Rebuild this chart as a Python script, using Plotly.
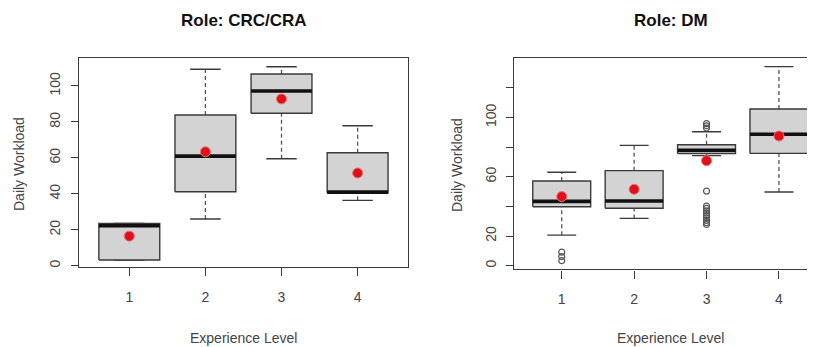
import plotly.graph_objects as go

# ---------------- data ----------------
levels = [1, 2, 3, 4]
level_labels = ["1", "2", "3", "4"]

# Role: CRC/CRA
crc_q1 = [3.2, 41.2, 84.8, 40.6]
crc_med = [22.3, 61.0, 97.2, 41.0]
crc_q3 = [23.6, 83.9, 106.7, 62.9]
crc_lo = [3.2, 26.0, 59.5, 36.4]
crc_hi = [23.6, 109.3, 110.7, 77.9]
crc_mean = [16.5, 63.4, 92.8, 51.6]
crc_out_level = []
crc_out_value = []

# Role: DM
dm_q1 = [39.8, 38.7, 75.6, 75.7]
dm_med = [43.4, 43.6, 77.8, 88.6]
dm_q3 = [57.1, 64.1, 81.5, 105.6]
dm_lo = [20.6, 31.9, 74.2, 49.7]
dm_hi = [63.0, 81.1, 90.3, 134.2]
dm_mean = [46.6, 51.5, 70.8, 87.4]
dm_out_level = [1, 1, 1, 3, 3, 3, 3, 3, 3, 3, 3, 3, 3, 3, 3, 3]
dm_out_value = [9.2, 6.2, 3.4, 95.8, 94.3, 92.8, 50.3, 40.2, 38.6,
                37.0, 35.4, 33.8, 32.2, 30.6, 29.0, 27.8]

left_yticks = [0, 20, 40, 60, 80, 100]
right_yticks = [0, 20, 40, 60, 80, 100, 120]
right_yticktext = ["0", "20", "", "60", "", "100", ""]

titles = ["Role: CRC/CRA", "Role: DM"]
x_title = "Experience Level"
y_title = "Daily Workload"

# ---------------- style ----------------
HALF = 0.4      # half box width (R boxwex 0.8)
CAP = 0.2       # half staple width
OFF = 8         # page body margin offset
W, H = 815 - OFF, 347 - OFF
BOX_FILL = "#d3d3d3"
EDGE = "#3a3a3a"
TXT = "#444444"
FONT = "Liberation Sans, Arial"


def px_x(p):
    return (p - OFF) / W


def px_y(p):
    return 1 - (p - OFF) / H


fig = go.Figure()


def add_panel(xa, ya, q1, med, q3, lo, hi, mean, out_x, out_y):
    # whiskers (dashed)
    wx, wy = [], []
    for x, a, b, c, d in zip(levels, lo, q1, q3, hi):
        wx += [x, x, None, x, x, None]
        wy += [a, b, None, c, d, None]
    fig.add_trace(go.Scatter(x=wx, y=wy, mode="lines", xaxis=xa, yaxis=ya,
                             line=dict(color="#555555", width=1.3, dash="4px,3px"),
                             hoverinfo="skip"))
    # staples
    sx, sy = [], []
    for x, a, d in zip(levels, lo, hi):
        sx += [x - CAP, x + CAP, None, x - CAP, x + CAP, None]
        sy += [a, a, None, d, d, None]
    fig.add_trace(go.Scatter(x=sx, y=sy, mode="lines", xaxis=xa, yaxis=ya,
                             line=dict(color=EDGE, width=1.4), hoverinfo="skip"))
    # boxes
    for x, b, c in zip(levels, q1, q3):
        fig.add_trace(go.Scatter(
            x=[x - HALF, x + HALF, x + HALF, x - HALF, x - HALF],
            y=[b, b, c, c, b], mode="lines", fill="toself",
            fillcolor=BOX_FILL, xaxis=xa, yaxis=ya,
            line=dict(color=EDGE, width=1.4), hoverinfo="skip"))
    # medians
    mx, my = [], []
    for x, m in zip(levels, med):
        mx += [x - HALF, x + HALF, None]
        my += [m, m, None]
    fig.add_trace(go.Scatter(x=mx, y=my, mode="lines", xaxis=xa, yaxis=ya,
                             line=dict(color="#111111", width=3.6), hoverinfo="skip"))
    # outliers
    if out_x:
        fig.add_trace(go.Scatter(x=out_x, y=out_y, mode="markers", xaxis=xa, yaxis=ya,
                                 marker=dict(symbol="circle-open", size=6,
                                             color="#555555", line=dict(width=1.2)),
                                 hoverinfo="skip"))
    # means
    fig.add_trace(go.Scatter(x=levels, y=mean, mode="markers", xaxis=xa, yaxis=ya,
                             marker=dict(symbol="circle", size=10, color="#e0101a",
                                         line=dict(color="#f07070", width=1)),
                             hoverinfo="skip"))


add_panel("x", "y", crc_q1, crc_med, crc_q3, crc_lo, crc_hi, crc_mean,
          crc_out_level, crc_out_value)
add_panel("x2", "y2", dm_q1, dm_med, dm_q3, dm_lo, dm_hi, dm_mean,
          dm_out_level, dm_out_value)

axis_common = dict(showgrid=False, zeroline=False, showline=True,
                   linecolor=EDGE, linewidth=1.4, ticks="outside",
                   tickcolor=EDGE, tickwidth=1.2,
                   tickfont=dict(family=FONT, size=14, color=TXT))

fig.update_layout(
    width=W, height=H,
    margin=dict(l=0, r=0, t=0, b=0),
    paper_bgcolor="white", plot_bgcolor="white",
    showlegend=False,
    xaxis=dict(domain=[px_x(79), px_x(408)], range=[0.339, 4.662], anchor="y",
               tickvals=levels, ticktext=level_labels, ticklen=8, mirror=True,
               ticklabelstandoff=9, **axis_common),
    yaxis=dict(domain=[px_y(266.7), px_y(58.3)], range=[-0.5, 115.4], anchor="x",
               tickvals=left_yticks, tickangle=-90, ticklen=7, mirror=True,
               ticklabelstandoff=5, **axis_common),
    xaxis2=dict(domain=[px_x(514.3), 1.0], range=[0.345, 4.498], anchor="y2",
                tickvals=levels, ticktext=level_labels, ticklen=8, mirror=True,
                ticklabelstandoff=9, **axis_common),
    yaxis2=dict(domain=[px_y(269.3), px_y(58.3)], range=[-2.4, 139.8], anchor="x2",
                tickvals=right_yticks, ticktext=right_yticktext, tickangle=-90,
                ticklen=7, mirror=False, ticklabelstandoff=5, **axis_common),
)

ann = []
for cx, t in zip([243.5, 670.5], titles):
    ann.append(dict(x=px_x(cx), y=px_y(21), xref="paper", yref="paper",
                    text="<b>" + t + "</b>", showarrow=False,
                    font=dict(family=FONT, size=17, color="#111111"),
                    xanchor="center", yanchor="middle"))
for cx in [243.8, 670.8]:
    ann.append(dict(x=px_x(cx), y=px_y(338), xref="paper", yref="paper",
                    text=x_title, showarrow=False,
                    font=dict(family=FONT, size=14, color=TXT),
                    xanchor="center", yanchor="middle"))
for cx, cy in [(19, 164), (457, 165)]:
    ann.append(dict(x=px_x(cx), y=px_y(cy), xref="paper", yref="paper",
                    text=y_title, showarrow=False, textangle=-90,
                    font=dict(family=FONT, size=14, color=TXT),
                    xanchor="center", yanchor="middle"))
fig.update_layout(annotations=ann)

fig.write_html("out.html")
